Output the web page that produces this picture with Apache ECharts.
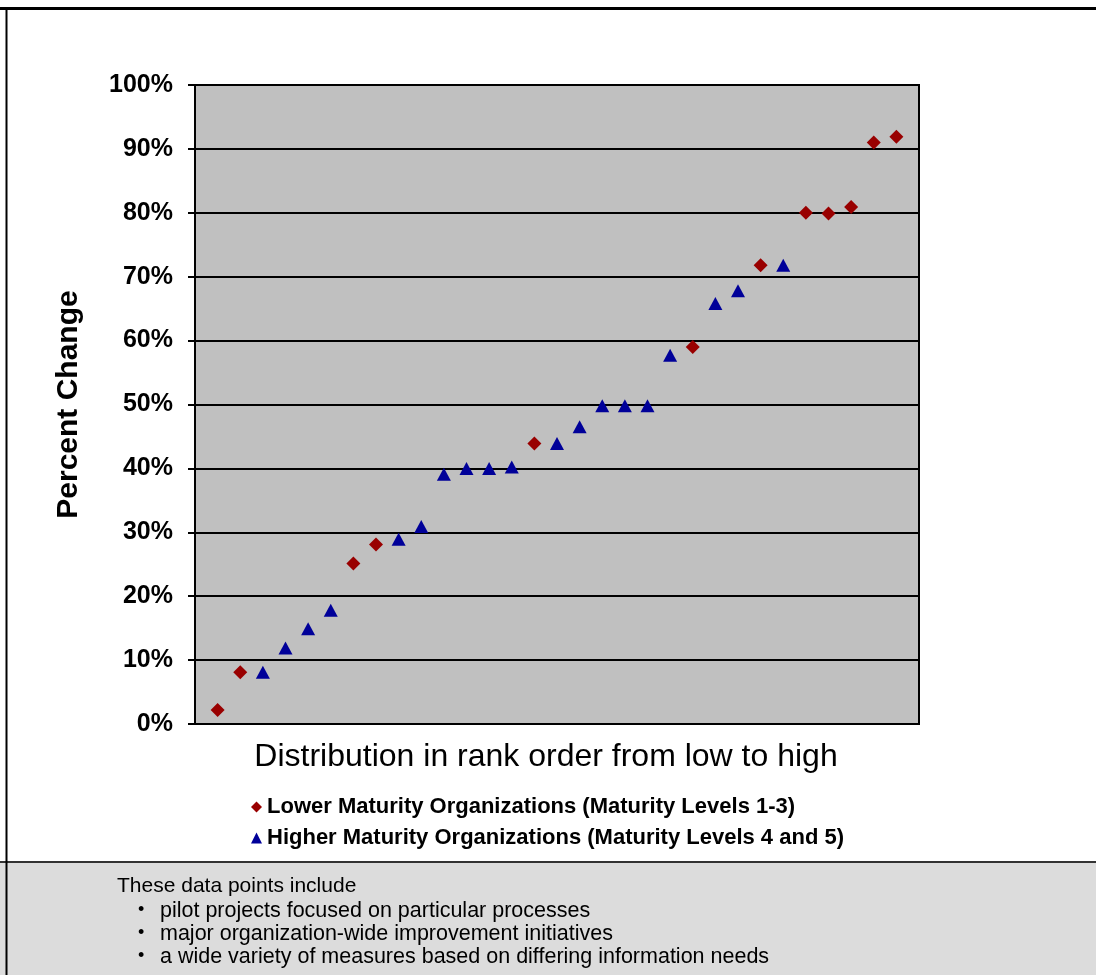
<!DOCTYPE html>
<html>
<head>
<meta charset="utf-8">
<script src="https://cdn.jsdelivr.net/npm/echarts@6/dist/echarts.min.js"></script>
<style>
html,body{margin:0;padding:0;background:#fff;}
#chart{width:1096px;height:975px;}
</style>
</head>
<body>
<div id="chart"></div>
<script>
// Data (rank position, percent change)
var lowerRank = [1, 2, 7, 8, 15, 22, 25, 27, 28, 29, 30, 31];
var lowerValues = [2.2, 8.1, 25.1, 28.1, 43.9, 59.0, 71.8, 80.0, 79.9, 80.9, 91.0, 91.9];
var higherRank = [3, 4, 5, 6, 9, 10, 11, 12, 13, 14, 16, 17, 18, 19, 20, 21, 23, 24, 26];
var higherValues = [8.1, 11.9, 14.9, 17.8, 28.9, 30.9, 39.1, 40.0, 40.0, 40.2, 43.9, 46.5, 49.8, 49.8, 49.8, 57.7, 65.8, 67.8, 71.8];
var seriesNames = ['Lower Maturity Organizations (Maturity Levels 1-3)', 'Higher Maturity Organizations (Maturity Levels 4 and 5)'];
var noteLines = ['These data points include',
  'pilot projects focused on particular processes',
  'major organization-wide improvement initiatives',
  'a wide variety of measures based on differing information needs'];

function pairs(xs, ys) { return xs.map(function (x, i) { return [x, ys[i]]; }); }

var FONT = '"Liberation Sans", Arial, sans-serif';
var chart = echarts.init(document.getElementById('chart'));

var noteTops = [876, 900, 923, 946];
var graphics = [
  // bottom note box
  { type: 'rect', shape: { x: 0, y: 862, width: 1096, height: 113 }, style: { fill: '#DCDCDC' }, z: 0 },
  { type: 'line', shape: { x1: 0, y1: 862, x2: 1096, y2: 862 }, style: { stroke: '#333', lineWidth: 2 }, z: 1 },
  // frame
  { type: 'line', shape: { x1: 0, y1: 8.5, x2: 1096, y2: 8.5 }, style: { stroke: '#000', lineWidth: 3 }, z: 1 },
  { type: 'line', shape: { x1: 6.5, y1: 8, x2: 6.5, y2: 975 }, style: { stroke: '#000', lineWidth: 2 }, z: 1 },
  { type: 'text', left: 117, top: noteTops[0], style: { text: noteLines[0], font: '21px ' + FONT, fill: '#000' }, z: 2 }
];
for (var i = 1; i < noteLines.length; i++) {
  graphics.push({ type: 'text', left: 138, top: noteTops[i] + 1, style: { text: '\u2022', font: '18px ' + FONT, fill: '#000' }, z: 2 });
  graphics.push({ type: 'text', left: 160, top: noteTops[i], style: { text: noteLines[i], font: '21.5px ' + FONT, fill: '#000' }, z: 2 });
}

chart.setOption({
  backgroundColor: '#fff',
  animation: false,
  grid: {
    left: 195, top: 85, right: 177, bottom: 251,
    show: true, backgroundColor: '#C0C0C0', borderColor: '#000', borderWidth: 2
  },
  legend: {
    orient: 'vertical',
    left: 246, top: 791,
    itemGap: 9,
    itemWidth: 11, itemHeight: 11,
    textStyle: { fontFamily: FONT, fontWeight: 'bold', fontSize: 22, color: '#000' },
    data: [
      { name: seriesNames[0], icon: 'diamond', itemStyle: { opacity: 1 } },
      { name: seriesNames[1], icon: 'triangle', itemStyle: { opacity: 1 } }
    ]
  },
  xAxis: {
    type: 'value', min: 0, max: 32,
    axisLine: { show: true, lineStyle: { color: '#000', width: 2 } },
    axisTick: { show: false },
    axisLabel: { show: false },
    splitLine: { show: false },
    name: 'Distribution in rank order from low to high',
    nameLocation: 'middle',
    nameGap: 17,
    nameTextStyle: { fontFamily: FONT, fontSize: 32, color: '#000', verticalAlign: 'top', padding: [0, 22, 0, 0] }
  },
  yAxis: {
    type: 'value', min: 0, max: 100, interval: 10,
    axisLine: { show: true, lineStyle: { color: '#000', width: 2 } },
    axisTick: { show: true, inside: false, length: 7, lineStyle: { color: '#000', width: 2 } },
    axisLabel: { formatter: '{value}%', fontFamily: FONT, fontWeight: 'bold', fontSize: 25, color: '#000', margin: 22 },
    splitLine: { show: true, lineStyle: { color: '#000', width: 2 } },
    name: 'Percent Change',
    nameLocation: 'middle',
    nameRotate: 90,
    nameGap: 111,
    nameTextStyle: { fontFamily: FONT, fontWeight: 'bold', fontSize: 30, color: '#000' }
  },
  series: [
    {
      name: seriesNames[0], type: 'scatter', symbol: 'diamond', symbolSize: 14,
      itemStyle: { color: '#990000', opacity: 1 },
      data: pairs(lowerRank, lowerValues), z: 3
    },
    {
      name: seriesNames[1], type: 'scatter', symbol: 'triangle', symbolSize: [14, 13],
      itemStyle: { color: '#000099', opacity: 1 },
      data: pairs(higherRank, higherValues), z: 3
    }
  ],
  graphic: graphics
});
</script>
</body>
</html>
